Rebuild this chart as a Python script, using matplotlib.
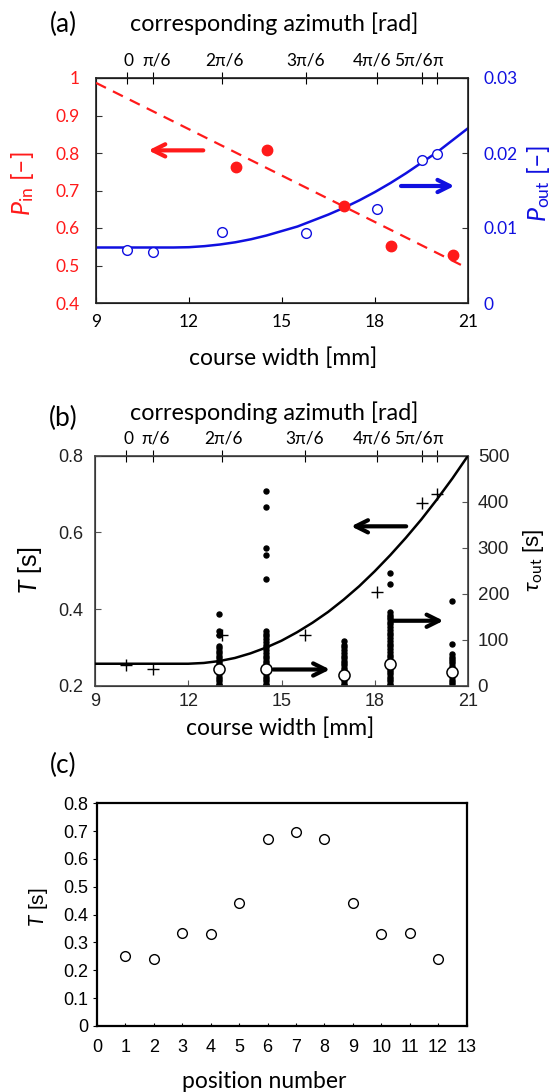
import matplotlib
matplotlib.use("Agg")
import matplotlib.pyplot as plt
from matplotlib.transforms import ScaledTranslation

# ---------------- data ----------------
azimuth_pos = [10.0, 10.85, 13.07, 15.76, 18.07, 19.53, 19.99]
azimuth_labels = ["0", "π/6", "2π/6", "3π/6", "4π/6", "5π/6", "π"]

# panel (a)
pin_x = [13.5, 14.5, 17.0, 18.5, 20.5]
pin_y = [0.764, 0.809, 0.658, 0.551, 0.528]
pin_fit_x = [9.0, 20.86]
pin_fit_y = [0.987, 0.498]
pout_x = [10.0, 10.85, 13.07, 15.76, 18.07, 19.53, 19.99]
pout_y = [0.0071, 0.0068, 0.0095, 0.0094, 0.0126, 0.0191, 0.0198]
pout_fit_x = [9, 10, 11, 11.5, 12, 12.5, 13, 13.5, 14, 14.5, 15, 15.5, 16, 16.5, 17,
              17.5, 18, 18.5, 19, 19.5, 20, 20.5, 21]
pout_fit_y = [0.0074, 0.0074, 0.0074, 0.0074, 0.00744, 0.00758, 0.0078, 0.0081, 0.0085,
              0.0090, 0.0096, 0.0102, 0.0110, 0.0118, 0.0127, 0.0137, 0.0148, 0.0160,
              0.0173, 0.0187, 0.0201, 0.0217, 0.0233]

# panel (b)
T_x = [10.0, 10.85, 13.07, 15.76, 18.07, 19.53, 19.99]
T_y = [0.254, 0.243, 0.334, 0.332, 0.445, 0.676, 0.700]
T_fit_x = [9, 10, 11, 12, 12.5, 13, 13.5, 14, 14.5, 15, 15.5, 16, 16.5, 17, 17.5, 18,
           18.5, 19, 19.5, 20, 20.5, 21]
T_fit_y = [0.258, 0.258, 0.258, 0.258, 0.260, 0.265, 0.273, 0.285, 0.300, 0.318, 0.340,
           0.365, 0.393, 0.425, 0.460, 0.499, 0.541, 0.586, 0.634, 0.686, 0.741, 0.800]

tau_col_x = [13.0, 14.5, 17.0, 18.5, 20.5]
tau_col13 = [157, 119, 110, 87, 82, 77, 72, 66, 60, 55, 50, 45, 40, 35, 30, 25, 20, 15, 10, 5, 2]
tau_col145 = [424, 388, 300, 285, 233, 119, 113, 108, 101, 95, 90, 84, 78, 72, 66, 60, 55,
              50, 45, 40, 35, 30, 25, 20, 15, 10, 5, 2]
tau_col17 = [97, 90, 84, 78, 72, 66, 60, 55, 50, 45, 40, 35, 30, 25, 20, 15, 10, 5, 2]
tau_col185 = [245, 222, 161, 155, 150, 145, 140, 134, 128, 122, 116, 110, 104, 98, 92, 86,
              80, 74, 68, 62, 56, 50, 45, 40, 35, 30, 25, 20, 15, 10, 5, 2]
tau_col205 = [184, 92, 69, 64, 59, 54, 49, 44, 39, 34, 29, 24, 19, 14, 9, 4]
tau_mean = [36, 36, 24, 47, 30]

# panel (c)
position = [1, 2, 3, 4, 5, 6, 7, 8, 9, 10, 11, 12]
T_pos = [0.251, 0.240, 0.333, 0.329, 0.443, 0.672, 0.697, 0.672, 0.443, 0.329, 0.333, 0.240]

# ---------------- style ----------------
plt.rcParams['mathtext.fontset'] = 'custom'
plt.rcParams['mathtext.rm'] = 'Lato'
plt.rcParams['mathtext.it'] = 'Lato:italic'
LAB = ['Lato', 'DejaVu Sans']
ARI = ['Liberation Sans', 'DejaVu Sans']
# horizontal pixel shifts of the azimuth labels relative to their ticks (as in reference)
AZ_SHIFT = [2, 3, 2, 0, -5, -9, 1]

W, H = 551, 1092
fig = plt.figure(figsize=(W / 100, H / 100), dpi=100)


def rect(l, r, t, b):
    return [l / W, 1 - b / H, (r - l) / W, (b - t) / H]


def ftext(x, y, s, **kw):
    fig.text(x / W, 1 - y / H, s, ha='center', va='center', **kw)


def azimuth_axis(axis):
    top = axis.secondary_xaxis('top')
    top.set_xticks(azimuth_pos)
    top.set_xticklabels(azimuth_labels)
    top.tick_params(direction='inout', length=9, labelsize=12.5, pad=2)
    for tk, dx in zip(top.xaxis.get_major_ticks(), AZ_SHIFT):
        for lab in (tk.label1, tk.label2):
            lab.set_family(LAB)
            lab.set_transform(lab.get_transform() +
                              ScaledTranslation(dx / 100, 0, fig.dpi_scale_trans))
    return top


RED = '#ff1a1a'
BLUE = '#1010e0'

# ================= (a) =================
ax = fig.add_axes(rect(96, 468, 78, 303))
ax.set_xlim(9, 21)
ax.set_ylim(0.4, 1.0)
ax.set_xticks([9, 12, 15, 18, 21])
ax.set_yticks([0.4, 0.5, 0.6, 0.7, 0.8, 0.9, 1.0])
ax.set_yticklabels(['0.4', '0.5', '0.6', '0.7', '0.8', '0.9', '1'])
ax.tick_params(axis='y', direction='in', length=4, colors='#333333', labelcolor=RED,
               labelsize=12.5, pad=11.5)
ax.tick_params(axis='x', direction='in', length=4, labelsize=12.5, pad=8)
for lab in ax.get_xticklabels() + ax.get_yticklabels():
    lab.set_family(LAB)
for sp in ax.spines.values():
    sp.set_linewidth(1.2)
    sp.set_color('#222222')

axr = ax.twinx()
axr.set_ylim(0, 0.03)
axr.set_yticks([0, 0.01, 0.02, 0.03])
axr.set_yticklabels(['0', '0.01', '0.02', '0.03'])
axr.tick_params(axis='y', direction='in', length=4, colors='#333333', labelcolor=BLUE,
                labelsize=12.5, pad=11)
for lab in axr.get_yticklabels():
    lab.set_family(LAB)

axr.plot(pout_fit_x, pout_fit_y, color=BLUE, lw=1.8, zorder=3)
axr.plot(pout_x, pout_y, 'o', ms=7, mfc='white', mec=BLUE, mew=1.0, zorder=4)
ax.plot(pin_fit_x, pin_fit_y, color=RED, lw=1.6, dashes=(5, 3.5), zorder=3)
ax.plot(pin_x, pin_y, 'o', ms=7.5, color=RED, zorder=4)
ax.set_zorder(axr.get_zorder() + 1)
ax.patch.set_visible(False)

ax.annotate('', xy=(10.6, 0.807), xytext=(12.55, 0.807),
            arrowprops=dict(arrowstyle='->', lw=3, color=RED, mutation_scale=22))
axr.annotate('', xy=(20.65, 0.0156), xytext=(18.75, 0.0156),
             arrowprops=dict(arrowstyle='->', lw=3, color=BLUE, mutation_scale=22))

azimuth_axis(ax)

ftext(63, 24, '(a)', fontsize=19, family=LAB)
ftext(274, 24, 'corresponding azimuth [rad]', fontsize=16.8, family=LAB)
ftext(283, 358, 'course width [mm]', fontsize=16.5, family=LAB)
ftext(22, 184, r'$P_{\mathrm{in}}$ [–]', fontsize=18, color=RED, rotation=90, family=LAB)
ftext(539, 184, r'$P_{\mathrm{out}}$ [–]', fontsize=18, color=BLUE, rotation=90, family=LAB)

# ================= (b) =================
bx = fig.add_axes(rect(95, 468, 455.7, 686))
bx.set_xlim(9, 21)
bx.set_ylim(0.2, 0.8)
bx.set_xticks([9, 12, 15, 18, 21])
bx.set_yticks([0.2, 0.4, 0.6, 0.8])
bx.tick_params(axis='both', direction='in', length=4, labelsize=13, colors='#555555',
               labelcolor='#222222')
bx.tick_params(axis='y', pad=8.5)
bx.tick_params(axis='x', pad=5)
for lab in bx.get_xticklabels() + bx.get_yticklabels():
    lab.set_family(ARI)
for sp in bx.spines.values():
    sp.set_linewidth(1.2)
    sp.set_color('#444444')

bxr = bx.twinx()
bxr.set_ylim(0, 500)
bxr.set_yticks([0, 100, 200, 300, 400, 500])
bxr.tick_params(axis='y', direction='in', length=4, labelsize=13.5, colors='#555555',
                labelcolor='#222222', pad=7)
for lab in bxr.get_yticklabels():
    lab.set_family(ARI)

cols = [tau_col13, tau_col145, tau_col17, tau_col185, tau_col205]
for xc, col in zip(tau_col_x, cols):
    bxr.plot([xc] * len(col), col, 'o', ms=3.6, color='black', zorder=3)
bxr.plot(tau_col_x, tau_mean, 'o', ms=8, mfc='white', mec='black', mew=1.1, zorder=5)

bx.plot(T_fit_x, T_fit_y, color='black', lw=1.8, zorder=3)
bx.plot(T_x, T_y, '+', ms=8, mew=1.0, color='black', zorder=4)
bx.set_zorder(bxr.get_zorder() + 1)
bx.patch.set_visible(False)

bx.annotate('', xy=(17.15, 0.616), xytext=(19.1, 0.616),
            arrowprops=dict(arrowstyle='->', lw=3, color='black', mutation_scale=22))
bx.annotate('', xy=(16.65, 0.243), xytext=(14.65, 0.243),
            arrowprops=dict(arrowstyle='->', lw=3, color='black', mutation_scale=22))
bx.annotate('', xy=(20.3, 0.370), xytext=(18.45, 0.370),
            arrowprops=dict(arrowstyle='->', lw=3, color='black', mutation_scale=22))

azimuth_axis(bx)

ftext(63, 418, '(b)', fontsize=19, family=LAB)
ftext(274, 413, 'corresponding azimuth [rad]', fontsize=16.8, family=LAB)
ftext(280, 728, 'course width [mm]', fontsize=16.5, family=LAB)
ftext(30, 570, r'$T$ [s]', fontsize=18, rotation=90, family=ARI)
ftext(534, 560, r'$\tau_{\mathrm{out}}$ [s]', fontsize=16, rotation=90, family=ARI)

# ================= (c) =================
cx = fig.add_axes(rect(97, 466.5, 803.3, 1026))
cx.set_xlim(0, 13)
cx.set_ylim(0, 0.8)
cx.set_xticks(range(0, 14))
cx.set_yticks([0, 0.1, 0.2, 0.3, 0.4, 0.5, 0.6, 0.7, 0.8])
cx.set_yticklabels(['0', '0.1', '0.2', '0.3', '0.4', '0.5', '0.6', '0.7', '0.8'])
cx.tick_params(axis='y', direction='out', length=3, labelsize=13, pad=3.5)
cx.tick_params(axis='x', direction='in', length=2.5, labelsize=13, pad=9)
for lab in cx.get_xticklabels() + cx.get_yticklabels():
    lab.set_family(ARI)
for sp in cx.spines.values():
    sp.set_linewidth(1.6)
cx.plot(position, T_pos, 'o', ms=7, mfc='white', mec='black', mew=1.0)

ftext(63, 765, '(c)', fontsize=19, family=LAB)
ftext(264, 1082, 'position number', fontsize=16.5, family=LAB)
ftext(38, 907, r'$T$ [s]', fontsize=15, rotation=90, family=ARI)

fig.savefig('out.png', dpi=100)
